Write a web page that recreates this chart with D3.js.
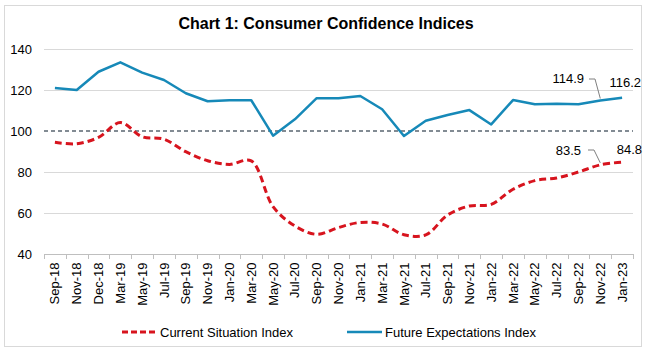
<!DOCTYPE html>
<html>
<head>
<meta charset="utf-8">
<script src="https://cdn.jsdelivr.net/npm/d3@7"></script>
<style>
html,body{margin:0;padding:0;background:#fff;}
svg{display:block;font-family:"Liberation Sans",Arial,sans-serif;}
</style>
</head>
<body>
<svg id="chart" width="652" height="358"></svg>
<script>
const categories = ["Sep-18","Nov-18","Dec-18","Mar-19","May-19","Jul-19","Sep-19","Nov-19","Jan-20","Mar-20","May-20","Jul-20","Sep-20","Nov-20","Jan-21","Mar-21","May-21","Jul-21","Sep-21","Nov-21","Jan-22","Mar-22","May-22","Jul-22","Sep-22","Nov-22","Jan-23"];
const currentSituation = [94.5,93.8,96.9,104.1,97.2,96.0,89.9,85.5,83.7,85.4,63.1,53.7,49.6,52.9,55.4,54.6,49.4,49.3,59.0,63.4,64.2,71.6,75.8,77.1,80.0,83.5,84.8];
const futureExpectations = [121.0,120.0,128.9,133.5,128.5,124.9,118.4,114.5,115.0,115.0,97.7,105.7,116.0,116.0,117.1,110.6,97.6,105.0,107.8,110.2,103.2,115.1,113.0,113.3,113.0,114.9,116.2];
const yTicks = [40,60,80,100,120,140];
const referenceLevel = 100;
const seriesNames = ["Current Situation Index","Future Expectations Index"];

const svg = d3.select("#chart");
const red = "#d7141e", blue = "#1689b8";

// outer border
svg.append("rect").attr("x",4.5).attr("y",5.5).attr("width",637).attr("height",341)
  .attr("fill","none").attr("stroke","#d9d9d9").attr("stroke-width",1);

svg.append("text").attr("x",326).attr("y",29).attr("text-anchor","middle")
  .attr("font-size",16).attr("font-weight","bold").attr("fill","#000")
  .text("Chart 1: Consumer Confidence Indices");

const x = d3.scaleBand().domain(categories).range([44,633]);
const y = d3.scaleLinear().domain([40,140]).range([254,49]);
const cx = d => x(d) + x.bandwidth()/2;

// grid
svg.append("g").selectAll("line").data(yTicks.filter(t=>t!==40 && t!==100)).join("line")
  .attr("x1",44).attr("x2",633).attr("y1",d=>Math.round(y(d))+0.5).attr("y2",d=>Math.round(y(d))+0.5)
  .attr("stroke","#d9d9d9").attr("stroke-width",1);

// y axis labels
const yAxis = d3.axisLeft(y).tickValues(yTicks).tickSize(0).tickPadding(12);
const gy = svg.append("g").attr("transform","translate(44,0)").call(yAxis);
gy.select(".domain").remove();
gy.selectAll("text").attr("font-size",13).attr("fill","#000").attr("font-family","Liberation Sans, Arial, sans-serif");

// x axis
const xAxis = d3.axisBottom(x).tickSize(0).tickPadding(0);
const gx = svg.append("g").attr("transform",`translate(0,${Math.round(y(40))+0.5})`).call(xAxis);
gx.select(".domain").attr("stroke","#bfbfbf").attr("d","M44,0H633");
gx.selectAll(".tick line").remove();
gx.selectAll(".tick text").attr("font-size",13).attr("fill","#000")
  .attr("font-family","Liberation Sans, Arial, sans-serif")
  .attr("transform","rotate(-90)").attr("text-anchor","end")
  .attr("x",-8).attr("y",0).attr("dy","0.35em").attr("dx",0);
// boundary tick marks
const bounds = categories.map(c=>x(c)).concat([x(categories[categories.length-1])+x.bandwidth()]);
svg.append("g").selectAll("line").data(bounds).join("line")
  .attr("x1",d=>Math.round(d)+0.5).attr("x2",d=>Math.round(d)+0.5)
  .attr("y1",Math.round(y(40))).attr("y2",Math.round(y(40))+5)
  .attr("stroke","#bfbfbf");

// reference line
svg.append("line").attr("x1",44).attr("x2",633)
  .attr("y1",y(referenceLevel)).attr("y2",y(referenceLevel))
  .attr("stroke","#5a6570").attr("stroke-width",1.5).attr("stroke-dasharray","4,3");

// series
const lineStraight = d3.line().x((d,i)=>cx(categories[i])).y(d=>y(d));
const lineSmooth = d3.line().x((d,i)=>cx(categories[i])).y(d=>y(d)).curve(d3.curveCatmullRom.alpha(0.5));

svg.append("path").datum(futureExpectations).attr("d",lineStraight)
  .attr("fill","none").attr("stroke",blue).attr("stroke-width",2.5).attr("stroke-linejoin","round");
svg.append("path").datum(currentSituation).attr("d",lineSmooth)
  .attr("fill","none").attr("stroke",red).attr("stroke-width",3).attr("stroke-dasharray","7,4");

// data labels with leaders
function label(txt, tx, ty, anchor){
  svg.append("text").attr("x",tx).attr("y",ty).attr("text-anchor",anchor)
    .attr("font-size",13).attr("fill","#000").text(txt);
}
function leader(idx, series, lx, ly){
  const px = cx(categories[idx]), py = y(series[idx]);
  svg.append("path").attr("d",`M${lx},${ly}H${lx+6}L${px},${py-2}`)
    .attr("fill","none").attr("stroke","#7f7f7f").attr("stroke-width",1);
}
const n = categories.length;
label(futureExpectations[n-2].toFixed(1), 584, 83, "end");
leader(n-2, futureExpectations, 589, 79);
label(futureExpectations[n-1].toFixed(1), 641, 87, "end");
label(currentSituation[n-2].toFixed(1), 581, 155, "end");
leader(n-2, currentSituation, 588, 150);
label(currentSituation[n-1].toFixed(1), 642, 154, "end");

// legend
const lg = svg.append("g");
lg.append("line").attr("x1",122).attr("x2",156).attr("y1",332).attr("y2",332)
  .attr("stroke",red).attr("stroke-width",3).attr("stroke-dasharray","6,3");
lg.append("text").attr("x",160).attr("y",336.5).attr("font-size",13).attr("fill","#000").text(seriesNames[0]);
lg.append("line").attr("x1",347).attr("x2",382).attr("y1",332).attr("y2",332)
  .attr("stroke",blue).attr("stroke-width",2.5);
lg.append("text").attr("x",385).attr("y",336.5).attr("font-size",13).attr("fill","#000").text(seriesNames[1]);
</script>
</body>
</html>
